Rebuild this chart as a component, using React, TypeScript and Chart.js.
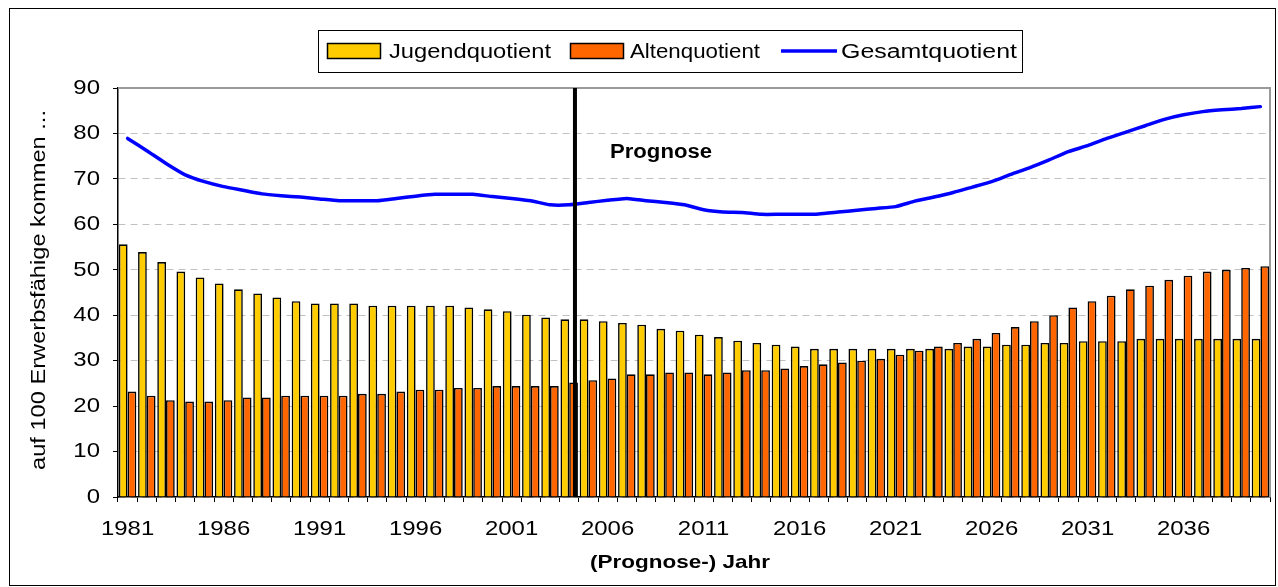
import React, { useEffect, useRef } from "react";
import { Chart, registerables } from "chart.js";

Chart.register(...registerables);

const years = [
  "1981", "1982", "1983", "1984", "1985", "1986", "1987", "1988", "1989", "1990",
  "1991", "1992", "1993", "1994", "1995", "1996", "1997", "1998", "1999", "2000",
  "2001", "2002", "2003", "2004", "2005", "2006", "2007", "2008", "2009", "2010",
  "2011", "2012", "2013", "2014", "2015", "2016", "2017", "2018", "2019", "2020",
  "2021", "2022", "2023", "2024", "2025", "2026", "2027", "2028", "2029", "2030",
  "2031", "2032", "2033", "2034", "2035", "2036", "2037", "2038", "2039", "2040",
];

const jugendquotient = [
  55.6, 53.9, 51.7, 49.6, 48.3, 47.0, 45.7, 44.8, 43.9, 43.1,
  42.6, 42.6, 42.6, 42.1, 42.1, 42.1, 42.1, 42.1, 41.7, 41.3,
  40.9, 40.1, 39.5, 39.1, 39.1, 38.7, 38.3, 37.9, 37.0, 36.6,
  35.7, 35.2, 34.4, 33.9, 33.5, 33.1, 32.6, 32.6, 32.6, 32.6,
  32.6, 32.6, 32.6, 32.6, 33.1, 33.1, 33.5, 33.5, 33.9, 33.9,
  34.3, 34.3, 34.3, 34.8, 34.8, 34.8, 34.8, 34.8, 34.8, 34.8,
];

const altenquotient = [
  23.2, 22.3, 21.3, 21.0, 21.0, 21.3, 21.9, 21.9, 22.3, 22.3,
  22.3, 22.3, 22.7, 22.7, 23.2, 23.6, 23.6, 24.0, 24.0, 24.4,
  24.4, 24.4, 24.4, 25.2, 25.7, 26.1, 27.0, 27.0, 27.4, 27.4,
  27.0, 27.4, 27.9, 27.9, 28.3, 28.8, 29.2, 29.6, 30.0, 30.4,
  31.3, 32.2, 33.1, 33.9, 34.8, 36.1, 37.4, 38.7, 40.0, 41.7,
  43.1, 44.3, 45.7, 46.5, 47.8, 48.7, 49.6, 50.0, 50.4, 50.8,
];

const gesamtquotient = [
  78.9, 76.2, 73.4, 70.9, 69.4, 68.3, 67.5, 66.7, 66.3, 66.0,
  65.6, 65.2, 65.2, 65.2, 65.7, 66.2, 66.6, 66.6, 66.6, 66.1,
  65.7, 65.2, 64.3, 64.3, 64.8, 65.3, 65.7, 65.2, 64.8, 64.3,
  63.2, 62.7, 62.6, 62.2, 62.2, 62.2, 62.3, 62.7, 63.1, 63.5,
  63.9, 65.1, 66.0, 67.0, 68.2, 69.4, 71.0, 72.5, 74.2, 76.0,
  77.3, 78.9, 80.3, 81.7, 83.1, 84.1, 84.8, 85.2, 85.5, 85.9,
];

const seriesNames = ["Jugendquotient", "Altenquotient", "Gesamtquotient"];
const yAxisTitle = "auf 100 Erwerbsfähige kommen ...";
const xAxisTitle = "(Prognose-) Jahr";
const prognoseLabel = "Prognose";
const prognoseYear = "2004";
const xLabelEvery = 5;
const yMin = 0;
const yMax = 90;
const yStep = 10;

const FONT = "'Liberation Sans', Arial, Helvetica, sans-serif";
const TICK_STRETCH = 1.14;

const COLORS = {
  jugend: "#FFCC00",
  alten: "#FF6600",
  gesamt: "#0000FF",
};

function drawStretched(
  ctx: CanvasRenderingContext2D,
  text: string,
  x: number,
  y: number,
  font: string,
  align: CanvasTextAlign,
  targetWidth: number,
  rotate = 0
) {
  ctx.save();
  ctx.font = font;
  ctx.fillStyle = "#000";
  ctx.textAlign = align;
  ctx.textBaseline = "alphabetic";
  const w = ctx.measureText(text).width;
  const sx = targetWidth / w;
  ctx.translate(x, y);
  if (rotate) ctx.rotate(rotate);
  ctx.scale(sx, 1);
  ctx.fillText(text, 0, 0);
  ctx.restore();
}

const decorPlugin = {
  id: "decor",
  beforeDraw(chart: any) {
    const ctx = chart.ctx;
    ctx.save();
    ctx.fillStyle = "#fff";
    ctx.fillRect(0, 0, chart.width, chart.height);
    ctx.strokeStyle = "#000";
    ctx.lineWidth = 1;
    ctx.strokeRect(9.5, 8.5, 1266, 577);
    ctx.restore();
    // stretch scale texts horizontally like the original
    if (!ctx.__origFillText) {
      const orig = CanvasRenderingContext2D.prototype.fillText;
      ctx.__origFillText = orig;
      ctx.fillText = function (text: string, x: number, y: number) {
        this.save();
        this.translate(x, y);
        this.scale(TICK_STRETCH, 1);
        orig.call(this, text, 0, 0);
        this.restore();
      };
    }
  },
  beforeDatasetsDraw(chart: any) {
    const { ctx, chartArea } = chart;
    ctx.save();
    ctx.strokeStyle = "#9a9a9a";
    ctx.lineWidth = 2;
    ctx.beginPath();
    ctx.moveTo(chartArea.left, chartArea.top);
    ctx.lineTo(chartArea.right, chartArea.top);
    ctx.lineTo(chartArea.right, chartArea.bottom);
    ctx.stroke();
    ctx.restore();
  },
  afterDatasetsDraw(chart: any) {
    const { ctx, chartArea } = chart;
    const xs = chart.scales.x;
    const i = years.indexOf(prognoseYear);
    const a = xs.getPixelForValue(i);
    const b = xs.getPixelForValue(i + 1);
    const x = a + (b - a) * 0.3;
    ctx.save();
    ctx.strokeStyle = "#000";
    ctx.lineWidth = 4;
    ctx.beginPath();
    ctx.moveTo(x, chartArea.top);
    ctx.lineTo(x, chartArea.bottom);
    ctx.stroke();
    ctx.restore();
  },
  afterDraw(chart: any) {
    const ctx = chart.ctx;
    if (ctx.__origFillText) {
      delete ctx.fillText;
      delete ctx.__origFillText;
    }
    // Prognose label
    drawStretched(ctx, prognoseLabel, 610, 157.5, `bold 20px ${FONT}`, "left", 102);
    // axis titles
    drawStretched(ctx, xAxisTitle, 680, 568, `bold 19px ${FONT}`, "center", 180);
    drawStretched(ctx, yAxisTitle, 45, 290, `20px ${FONT}`, "center", 360, -Math.PI / 2);

    // legend
    ctx.save();
    ctx.strokeStyle = "#000";
    ctx.lineWidth = 1;
    ctx.fillStyle = "#fff";
    ctx.fillRect(318.5, 30.5, 704, 42);
    ctx.strokeRect(318.5, 30.5, 704, 42);
    ctx.lineWidth = 1.5;
    ctx.fillStyle = COLORS.jugend;
    ctx.fillRect(327.5, 43.5, 53, 15);
    ctx.strokeRect(327.5, 43.5, 53, 15);
    ctx.fillStyle = COLORS.alten;
    ctx.fillRect(570.5, 43.5, 53, 15);
    ctx.strokeRect(570.5, 43.5, 53, 15);
    ctx.strokeStyle = COLORS.gesamt;
    ctx.lineWidth = 3.5;
    ctx.beginPath();
    ctx.moveTo(781, 51);
    ctx.lineTo(837, 51);
    ctx.stroke();
    ctx.restore();
    drawStretched(ctx, seriesNames[0], 389, 58, `20px ${FONT}`, "left", 162);
    drawStretched(ctx, seriesNames[1], 630, 58, `20px ${FONT}`, "left", 130);
    drawStretched(ctx, seriesNames[2], 841, 58, `20px ${FONT}`, "left", 176);
  },
};

export default function App() {
  const ref = useRef<HTMLCanvasElement>(null);

  useEffect(() => {
    const canvas = ref.current;
    if (!canvas) return;
    const chart = new Chart(canvas, {
      type: "bar",
      data: {
        labels: years,
        datasets: [
          {
            type: "line",
            label: seriesNames[2],
            data: gesamtquotient,
            borderColor: COLORS.gesamt,
            backgroundColor: COLORS.gesamt,
            borderWidth: 3.5,
            pointRadius: 0,
            tension: 0.15,
            fill: false,
            borderCapStyle: "round",
            borderJoinStyle: "round",
            order: 0,
          } as any,
          {
            type: "bar",
            label: seriesNames[0],
            data: jugendquotient,
            backgroundColor: COLORS.jugend,
            borderColor: "#000",
            borderWidth: 1.6,
            categoryPercentage: 0.91,
            barPercentage: 1.0,
            order: 1,
          },
          {
            type: "bar",
            label: seriesNames[1],
            data: altenquotient,
            backgroundColor: COLORS.alten,
            borderColor: "#000",
            borderWidth: 1.6,
            categoryPercentage: 0.91,
            barPercentage: 1.0,
            order: 1,
          },
        ],
      },
      options: {
        responsive: false,
        animation: false,
        layout: { padding: { top: 88, right: 8, left: 0, bottom: 0 } },
        plugins: {
          legend: { display: false },
          tooltip: { enabled: false },
          title: { display: false },
        },
        scales: {
          x: {
            offset: true,
            grid: {
              display: true,
              drawOnChartArea: false,
              drawTicks: true,
              tickLength: 5,
              tickColor: "#000",
              tickWidth: 1,
              offset: true,
            },
            border: { display: true, color: "#000", width: 1.5 },
            ticks: {
              autoSkip: false,
              maxRotation: 0,
              minRotation: 0,
              padding: 15,
              color: "#000",
              font: { family: FONT, size: 21 },
              callback: (_v: any, i: number) => (i % xLabelEvery === 0 ? years[i] : ""),
            },
            afterFit: (s: any) => {
              s.height = 90;
            },
          },
          y: {
            min: yMin,
            max: yMax,
            ticks: {
              stepSize: yStep,
              padding: 13,
              color: "#000",
              font: { family: FONT, size: 21 },
            },
            grid: {
              color: "#c0c0c0",
              lineWidth: 1,
              drawTicks: true,
              tickLength: 5,
              tickColor: "#000",
              tickWidth: 1,
            },
            border: { display: true, color: "#000", width: 1.5, dash: [7, 5] },
            afterFit: (s: any) => {
              s.width = 118;
            },
          },
        },
      } as any,
      plugins: [decorPlugin],
    });
    return () => chart.destroy();
  }, []);

  return (
    <div style={{ position: "absolute", left: 0, top: 0, width: 1278, height: 587, background: "#fff" }}>
      <canvas ref={ref} width={1278} height={587} style={{ display: "block", width: 1278, height: 587 }} />
    </div>
  );
}
